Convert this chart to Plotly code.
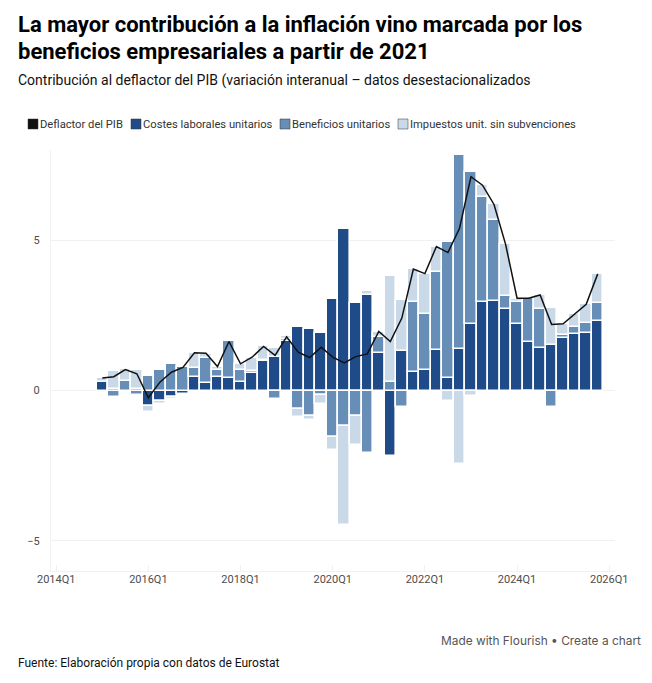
# Contribucion al deflactor del PIB - barras apiladas y linea

import plotly.graph_objects as go

W, H = 652, 683
M_L, M_R, M_T, M_B = 51, 37, 150, 112

# ------------------------------------------------------------
# Data, 2015Q1 - 2025Q4
# ------------------------------------------------------------

quarters = [f"{y}Q{q}" for y in range(2015, 2026) for q in range(1, 5)]
axis_quarters = [f"{y}Q{q}" for y in range(2014, 2027) for q in range(1, 5)][:49]
x_ticks = ["2014Q1", "2016Q1", "2018Q1", "2020Q1", "2022Q1", "2024Q1", "2026Q1"]
y_ticks = [-5, 0, 5]

costes = [0.30, 0.05, -0.04, 0.05,
          -0.51, -0.33, -0.20, -0.10,
          0.45, 0.25, 0.45, 0.43,
          0.30, 0.60, 0.98, 1.11,
          1.66, 2.13, 2.05, 1.90,
          3.06, 5.38, 2.92, 3.18,
          1.26, -2.17, 1.31, 0.62,
          0.69, 1.34, 0.43, 1.39,
          2.20, 2.96, 2.99, 2.72,
          2.22, 1.63, 1.41, 1.52,
          1.76, 1.89, 1.93, 2.31]

beneficios = [None, -0.23, 0.33, -0.16,
              0.50, 0.68, 0.87, 0.78,
              0.29, 0.82, 0.22, 1.21,
              0.40, 0.06, 0.05, -0.28,
              0.05, -0.62, -0.84, -0.14,
              -1.56, -1.18, -0.84, -2.09,
              0.52, 0.27, -0.56, 2.32,
              1.84, 2.59, 4.50, 6.45,
              5.07, 3.47, 2.68, 0.41,
              0.72, 1.45, 1.31, -0.56,
              0.10, 0.24, 0.31, 0.61]

impuestos = [0.12, 0.59, 0.39, 0.64,
             -0.21, -0.10, -0.09, None,
             0.50, 0.15, 0.13, None,
             0.18, 0.43, 0.44, 0.31,
             0.09, -0.25, -0.14, -0.32,
             -0.40, -3.28, -0.96, 0.14,
             0.16, 3.53, 1.69, 1.09,
             1.36, 0.85, -0.33, -2.43,
             -0.17, 0.40, 0.52, 1.74,
             0.11, -0.06, 0.45, 1.24,
             0.36, 0.40, 0.63, 0.97]

deflactor = [0.42, 0.46, 0.70, 0.56,
             -0.24, 0.28, 0.61, 0.77,
             1.26, 1.24, 0.80, 1.63,
             0.89, 1.11, 1.47, 1.17,
             1.79, 1.28, 1.10, 1.44,
             1.11, 0.92, 1.13, 1.22,
             1.97, 1.63, 2.41, 4.04,
             3.89, 4.79, 4.59, 5.39,
             7.11, 6.83, 6.19, 4.87,
             3.07, 3.07, 3.18, 2.20,
             2.22, 2.56, 2.87, 3.88]

COL_LINE = "#111111"
COL_COSTES = "#1f4c88"
COL_BENEF = "#668eb7"
COL_IMP = "#c9d9e8"
GRID = "#f1f1f3"
TICK_TEXT = "#4d4d4d"

fig = go.Figure()

for name, values, color in [
    ("Costes laborales unitarios", costes, COL_COSTES),
    ("Beneficios unitarios", beneficios, COL_BENEF),
    ("Impuestos unit. sin subvenciones", impuestos, COL_IMP),
]:
    fig.add_trace(go.Bar(x=quarters, y=values, name=name,
                         marker=dict(color=color, line=dict(color="white", width=1.6))))

fig.add_trace(go.Scatter(x=quarters, y=deflactor, name="Deflactor del PIB", mode="lines",
                         line=dict(color=COL_LINE, width=1.5)))


# page pixels to paper coordinates
def px_x(v):
    return (v - M_L) / (W - M_L - M_R)


def px_y(v):
    return (H - M_B - v) / (H - M_T - M_B)


def page_text(text, x, y, anchor, size, color, family="Roboto", weight="normal"):
    return dict(text=text, xref="paper", yref="paper", x=px_x(x), y=px_y(y),
                xanchor=anchor, yanchor="middle", showarrow=False,
                font=dict(family=family, size=size, color=color, weight=weight))


# Legend built by hand: swatch sits right against its label
legend_items = [("Deflactor del PIB", COL_LINE, 28), ("Costes laborales unitarios", COL_COSTES, 131),
                ("Beneficios unitarios", COL_BENEF, 280), ("Impuestos unit. sin subvenciones", COL_IMP, 398)]

shapes = []
annotations = []
for label, color, left in legend_items:
    shapes.append(dict(type="rect", xref="paper", yref="paper",
                       x0=px_x(left), x1=px_x(left + 10), y0=px_y(129), y1=px_y(119),
                       fillcolor=color, line=dict(color="#333333", width=0.5)))
    annotations.append(page_text(label, left + 10, 124, "left", 11.2, "#333333"))

annotations.append(page_text("La mayor contribución a la inflación vino marcada por los",
                             16, 25, "left", 22, "#000000", weight="bold"))
annotations.append(page_text("beneficios empresariales a partir de 2021",
                             16, 51, "left", 22, "#000000", weight="bold"))
annotations.append(page_text("Contribución al deflactor del PIB (variación interanual – datos desestacionalizados",
                             16, 81, "left", 14, "#111111"))
annotations.append(page_text("Made with Flourish • Create a chart", 643, 640, "right", 11.9, "#555555", family="Inter"))
annotations.append(page_text("Fuente: Elaboración propia con datos de Eurostat", 16, 663, "left", 12, "#111111"))

fig.update_layout(
    width=W,
    height=H,
    barmode="relative",
    bargap=0,
    showlegend=False,
    paper_bgcolor="white",
    plot_bgcolor="white",
    margin=dict(l=M_L, r=M_R, t=M_T, b=M_B, autoexpand=False),
    shapes=shapes,
    annotations=annotations,
)

fig.update_xaxes(type="category", categoryorder="array", categoryarray=axis_quarters,
                 range=[-0.45, 48.5], tickmode="array", tickvals=x_ticks, ticktext=x_ticks,
                 ticks="inside", ticklen=6, tickcolor=GRID, tickwidth=1, ticklabelstandoff=-2,
                 showgrid=False, showline=True, linecolor=GRID, linewidth=1, zeroline=False,
                 tickfont=dict(family="Roboto", size=11, color=TICK_TEXT))
fig.update_yaxes(range=[-6, 8], tickmode="array", tickvals=y_ticks, ticklabelstandoff=8,
                 showgrid=True, gridcolor=GRID, gridwidth=1, zeroline=False,
                 showline=True, linecolor=GRID, linewidth=1, ticks="",
                 tickfont=dict(family="Roboto", size=11, color=TICK_TEXT))

# the page must start at 0,0 like the reference
fig.write_html("out.html", config={"displayModeBar": False},
               post_script="document.body.style.margin = '0';")
